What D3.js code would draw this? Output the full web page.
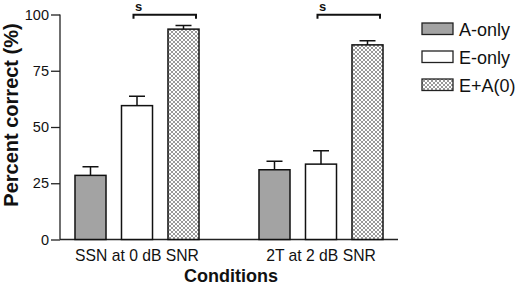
<!DOCTYPE html>
<html><head><meta charset="utf-8">
<script src="https://cdn.jsdelivr.net/npm/d3@7"></script>
<style>body{margin:0;background:#fff}svg{display:block;font-family:"Liberation Sans",Arial,sans-serif}</style>
</head><body><svg id="c" width="520" height="286"></svg>
<script>
const conditions = ["SSN at 0 dB SNR", "2T at 2 dB SNR"];
const seriesNames = ["A-only", "E-only", "E+A(0)"];
const aOnly = [28.5, 31];
const eOnly = [59.5, 33.5];
const eaZero = [93.5, 86.5];
const aOnlyErr = [3.8, 3.8];
const eOnlyErr = [4.2, 6];
const eaZeroErr = [1.6, 1.8];
const yTicks = [0, 25, 50, 75, 100];
const sigLabels = ["s", "s"];

const svg = d3.select("#c");
const defs = svg.append("defs");
const pat = defs.append("pattern").attr("id","hatch").attr("patternUnits","userSpaceOnUse")
  .attr("width",4).attr("height",4);
pat.append("rect").attr("width",4).attr("height",4).attr("fill","#fff");
pat.append("path").attr("d","M0,0L4,4M4,0L0,4").attr("stroke","#999").attr("stroke-width",1);

const fills = ["#a3a3a3", "#ffffff", "url(#hatch)"];
const valuesBySeries = [aOnly, eOnly, eaZero];
const errBySeries = [aOnlyErr, eOnlyErr, eaZeroErr];

const y = d3.scaleLinear().domain([0,100]).range([239.5,14.5]);
const x0 = d3.scaleBand().domain(conditions).range([60,398]).paddingInner(0.326).paddingOuter(0.0815);
const x1 = d3.scaleBand().domain(seriesNames).range([0,x0.bandwidth()]).paddingInner(0.333).paddingOuter(0);

// axes
const yAxis = d3.axisLeft(y).tickValues(yTicks).tickSize(9).tickPadding(2);
const gy = svg.append("g").attr("transform","translate(60,0)").call(yAxis);
gy.select(".domain").attr("stroke","#222").attr("stroke-width",1.3).attr("d","M0,14.5V239.5");
gy.selectAll(".tick line").attr("stroke","#222").attr("stroke-width",1.3);
gy.selectAll(".tick text").attr("font-size",14.5).attr("fill","#111");

const xAxis = d3.axisBottom(x0).tickSize(0).tickPadding(10);
const gx = svg.append("g").attr("transform","translate(0,239.5)").call(xAxis);
gx.select(".domain").attr("stroke","#222").attr("stroke-width",1.3).attr("d","M60,0H398");
gx.selectAll(".tick text").attr("font-size",15.7).attr("fill","#111");

// bars
const rows = [];
conditions.forEach((c,i)=>seriesNames.forEach((s,j)=>rows.push({c,s,j,v:valuesBySeries[j][i],e:errBySeries[j][i]})));
const g = svg.append("g");
g.selectAll("rect.bar").data(rows).join("rect").attr("class","bar")
  .attr("x",d=>x0(d.c)+x1(d.s)).attr("width",x1.bandwidth())
  .attr("y",d=>y(d.v)).attr("height",d=>y(0)-y(d.v))
  .attr("fill",d=>fills[d.j]).attr("stroke","#111").attr("stroke-width",1.5);
// error bars
g.selectAll("path.err").data(rows).join("path").attr("class","err")
  .attr("d",d=>{const cx=x0(d.c)+x1(d.s)+x1.bandwidth()/2;return `M${cx},${y(d.v)}V${y(d.v+d.e)}M${cx-8},${y(d.v+d.e)}H${cx+8}`;})
  .attr("stroke","#111").attr("stroke-width",1.5).attr("fill","none");

// significance brackets
conditions.forEach((c,i)=>{
  const xs = x0(c)+x1("E-only")+12, xe = x0(c)+x1("E+A(0)")+28, yb=y(100)+0.3;
  svg.append("path").attr("d",`M${xs},${yb+4}V${yb}H${xe}V${yb+4}`).attr("stroke","#111").attr("stroke-width",2).attr("fill","none");
  svg.append("text").attr("x",xs+1.5).attr("y",yb-4).attr("font-size",13).attr("font-weight","bold").attr("fill","#111").text(sigLabels[i]);
});

// axis titles
svg.append("text").attr("transform","translate(17.5,115) rotate(-90)").attr("text-anchor","middle")
  .attr("font-size",20).attr("font-weight","bold").attr("fill","#111").text("Percent correct (%)");
svg.append("text").attr("x",231).attr("y",282).attr("text-anchor","middle")
  .attr("font-size",18).attr("font-weight","bold").attr("fill","#111").text("Conditions");

// legend
const lg = svg.append("g").attr("transform","translate(422,23)");
seriesNames.forEach((s,j)=>{
  lg.append("rect").attr("x",0).attr("y",j*28).attr("width",31).attr("height",11.5)
    .attr("fill",fills[j]).attr("stroke","#222").attr("stroke-width",1.3);
  lg.append("text").attr("x",37).attr("y",j*28+12.5).attr("font-size",18).attr("fill","#111").text(s);
});
</script></body></html>
